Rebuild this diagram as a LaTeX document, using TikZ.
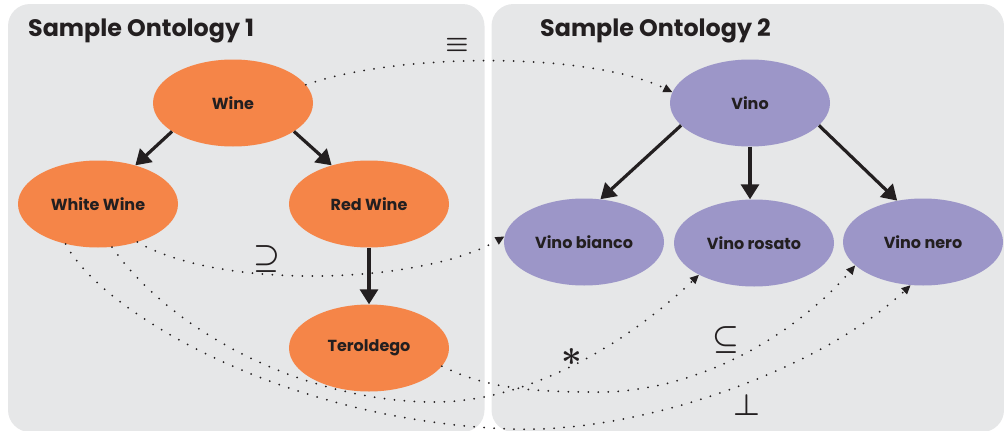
\documentclass[tikz,border=0pt]{standalone}
\usepackage{fontspec}
\setmainfont{Poppins}
\usetikzlibrary{shapes.geometric,arrows.meta}

\definecolor{panelgray}{HTML}{E6E7E8}
\definecolor{wineorange}{HTML}{F58548}
\definecolor{vinopurple}{HTML}{9C96C8}
\definecolor{ink}{HTML}{231F20}

% enlarged relation symbol
\newcommand\relsym[2][3]{\scalebox{#1}{\boldmath$#2$}}

\begin{document}
\begin{tikzpicture}[x=1pt,y=-1pt,
  panel/.style={fill=panelgray, rounded corners=22pt},
  concept/.style={ellipse, minimum width=160pt, minimum height=87pt, inner sep=0pt,
    text=ink, font=\bfseries\fontsize{16}{18}\selectfont},
  enconcept/.style={concept, fill=wineorange},
  itconcept/.style={concept, fill=vinopurple},
  isa/.style={draw=ink, line width=3.2pt, -{Triangle[length=15pt,width=18pt]}},
  match/.style={draw=ink, line width=2pt, line cap=round, dash pattern=on 0pt off 10pt,
    -{Triangle[length=9pt,width=8pt]}},
  rel/.style={text=ink, inner sep=0pt},
  heading/.style={anchor=base west, text=ink, inner sep=0pt, font=\bfseries\fontsize{23.8}{26}\selectfont}
]
\useasboundingbox (0,0) rectangle (1004,431);

% the two ontology panels
\path[panel] (8,4) rectangle (484.5,432);
\path[panel] (491.5,4) rectangle (1004,432);

\node[heading] (title1) at (28,36) {Sample Ontology 1};
\node[heading] (title2) at (540,36) {Sample Ontology 2};

% ontology 1
\node[enconcept] (wine) at (233,103) {Wine};
\node[enconcept] (ww) at (98,204) {White Wine};
\node[enconcept] (red) at (369,204) {Red Wine};
\node[enconcept] (ter) at (369,348) {Teroldego};

% ontology 2
\node[itconcept] (vino) at (750,103) {Vino};
\node[itconcept] (bianco) at (584,242) {Vino bianco};
\node[itconcept] (rosato) at (754,243) {Vino rosato};
\node[itconcept] (nero) at (923,242) {Vino nero};

% subclass links
\draw[isa] (wine.-155) -- (ww.46);
\draw[isa] (wine.-25) -- (red.134);
\draw[isa] (red.south) -- (ter.north);
\draw[isa] (vino.-162) -- (bianco.69);
\draw[isa] (vino.south) -- (vino.south |- rosato.north);
\draw[isa] (vino.-18) -- (nero.122);

% correspondences between the ontologies
\draw[match] (wine.14) .. controls (400,52) and (590,52) .. (vino.172);
\draw[match] (ww.-44) .. controls (220,290) and (420,285) .. (bianco.176);
\draw[match] (ww.-72) .. controls (170,330) and (300,400) .. (430,402)
  .. controls (520,404) and (620,350) .. (rosato.-150);
\draw[match] (ter.-14) .. controls (480,385) and (520,392) .. (590,392)
  .. controls (700,395) and (800,330) .. (nero.-161);
\draw[match] (ww.-129) .. controls (100,310) and (280,420) .. (510,429)
  .. controls (640,434) and (820,370) .. (nero.-106);

% relation symbols
\node[rel] (requiv) at (457,45) {\relsym[2.6]{\equiv}};
\node[rel] (rsup) at (267,259) {\relsym{\supseteq}};
\node[rel] (rast) at (572,357) {\relsym[3.6]{\ast}};
\node[rel] (rsub) at (726,340) {\relsym{\subseteq}};
\node[rel] (rperp) at (747,405) {\relsym{\perp}};
\end{tikzpicture}
\end{document}
